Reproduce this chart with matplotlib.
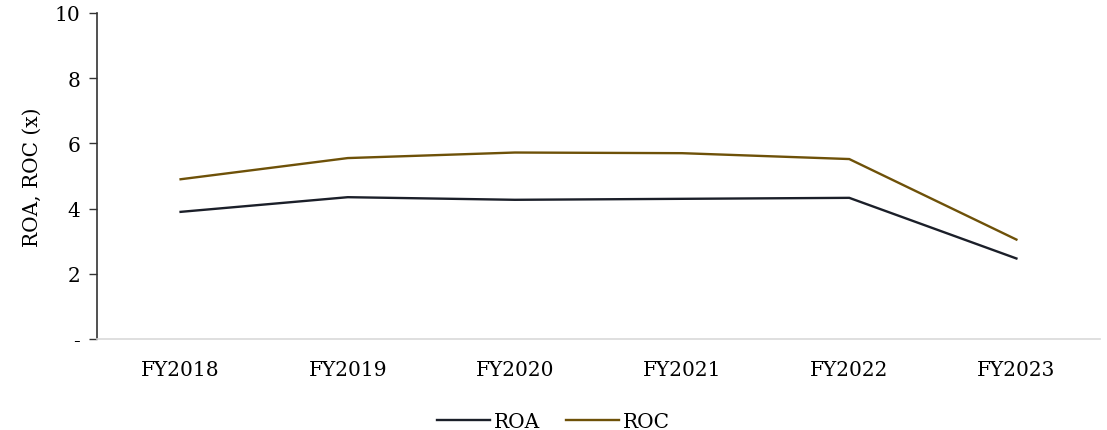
import matplotlib
matplotlib.use("Agg")
import matplotlib.pyplot as plt

years = ["FY2018", "FY2019", "FY2020", "FY2021", "FY2022", "FY2023"]
roa = [3.90, 4.35, 4.27, 4.30, 4.33, 2.47]
roc = [4.90, 5.55, 5.72, 5.70, 5.52, 3.05]
y_ticks = [0, 2, 4, 6, 8, 10]
y_tick_labels = ["-", "2", "4", "6", "8", "10"]

plt.rcParams["font.family"] = ["DejaVu Serif"]
FS = 14.5

fig = plt.figure(figsize=(11.07, 4.31), dpi=100)
ax = fig.add_axes([97 / 1107, 1 - 340 / 431, (1100 - 97) / 1107, (340 - 14) / 431])

x = range(len(years))
ax.plot(x, roa, color="#1b1f29", lw=1.7, label="ROA", solid_joinstyle="miter")
ax.plot(x, roc, color="#6e5108", lw=1.7, label="ROC", solid_joinstyle="miter")

ax.set_xlim(-0.5, len(years) - 0.5)
ax.set_ylim(0, 10)
ax.set_xticks(list(x))
ax.set_xticklabels(years, fontsize=FS)
ax.set_yticks(y_ticks)
ax.set_yticklabels(y_tick_labels, fontsize=FS)
ax.tick_params(axis="x", length=0, pad=15)
ax.tick_params(axis="y", length=6, width=1, color="#333333", direction="out", pad=6)

for side in ("top", "right"):
    ax.spines[side].set_visible(False)
ax.spines["left"].set_color("#333333")
ax.spines["left"].set_linewidth(1.2)
ax.spines["bottom"].set_color("#d9d9d9")
ax.spines["bottom"].set_linewidth(1.2)

ax.set_ylabel("ROA, ROC (x)", fontsize=FS, labelpad=9)

fig.legend(loc="lower center", bbox_to_anchor=(0.5, -0.045), ncol=2, frameon=False,
           fontsize=FS, handlelength=2.6, handletextpad=0.2, columnspacing=1.3)

fig.savefig("out.png", dpi=100)
